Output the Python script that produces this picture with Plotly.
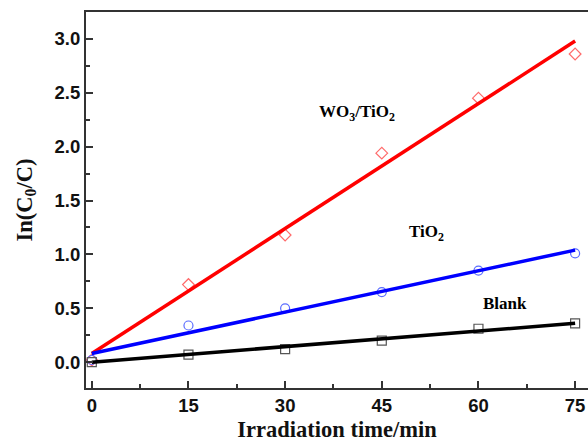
import plotly.graph_objects as go

time_min = [0, 15, 30, 45, 60, 75]
wo3_tio2 = [0.02, 0.72, 1.18, 1.94, 2.45, 2.86]
tio2 = [0.02, 0.34, 0.50, 0.65, 0.85, 1.01]
blank = [0.0, 0.07, 0.12, 0.20, 0.31, 0.36]

fit_x = [0, 75]
wo3_tio2_fit = [0.08, 2.98]
tio2_fit = [0.08, 1.04]
blank_fit = [0.0, 0.36]

x_ticks = [0, 15, 30, 45, 60, 75]
y_ticks = [0.0, 0.5, 1.0, 1.5, 2.0, 2.5, 3.0]

fig = go.Figure()

series = [
    (wo3_tio2, wo3_tio2_fit, "#ff0000", "#ff6a6a", "diamond-open"),
    (tio2, tio2_fit, "#0000ff", "#5a6cff", "circle-open"),
    (blank, blank_fit, "#000000", "#555555", "square-open"),
]
for ys, fit, lc, mc, sym in series:
    fig.add_trace(go.Scatter(x=time_min, y=ys, mode="markers",
                             marker=dict(symbol=sym, size=9, color=mc, line=dict(width=1.2, color=mc)),
                             showlegend=False))
for ys, fit, lc, mc, sym in series:
    fig.add_trace(go.Scatter(x=fit_x, y=fit, mode="lines",
                             line=dict(color=lc, width=3.5), showlegend=False))

lab_font = dict(family="Liberation Serif", size=17, color="black")
fig.add_annotation(x=41.1, y=2.31, text="<b>WO<sub>3</sub>/TiO<sub>2</sub></b>", showarrow=False, font=lab_font)
fig.add_annotation(x=52.0, y=1.20, text="<b>TiO<sub>2</sub></b>", showarrow=False, font=lab_font)
fig.add_annotation(x=64.1, y=0.54, text="<b>Blank</b>", showarrow=False, font=lab_font)

tick_font = dict(family="Liberation Sans", size=18.5, color="#111111")
title_font = dict(family="Liberation Serif", size=22.5, color="#111111")

fig.update_xaxes(range=[-0.9, 77.0], tickvals=x_ticks, ticktext=["<b>%d</b>" % v for v in x_ticks],
                 ticks="inside", ticklen=7, tickwidth=1.5,
                 tickcolor="#333", showline=True, linewidth=2, linecolor="#333", mirror=True,
                 showgrid=False, zeroline=False, tickfont=tick_font,
                 minor=dict(tickvals=[7.5, 22.5, 37.5, 52.5, 67.5], ticks="inside", ticklen=4, tickwidth=1.5, tickcolor="#333"),
                 title=dict(text="<b>Irradiation time/min</b>", font=title_font, standoff=6))
fig.update_yaxes(range=[-0.24, 3.25], tickvals=y_ticks, ticktext=["<b>%.1f</b>" % v for v in y_ticks],
                 ticks="inside", ticklen=7, tickwidth=1.5,
                 tickcolor="#333", showline=True, linewidth=2, linecolor="#333", mirror=False,
                 showgrid=False, zeroline=False, tickfont=tick_font,
                 minor=dict(tickvals=[0.25, 0.75, 1.25, 1.75, 2.25, 2.75], ticks="inside", ticklen=4, tickwidth=1.5, tickcolor="#333"),
                 title=dict(text="<b>In(C<sub>0</sub>/C)</b>", font=title_font, standoff=16))

fig.update_layout(width=588, height=445, margin=dict(l=86, r=0, t=12, b=57),
                  plot_bgcolor="white", paper_bgcolor="white")
fig.write_html("out.html")
